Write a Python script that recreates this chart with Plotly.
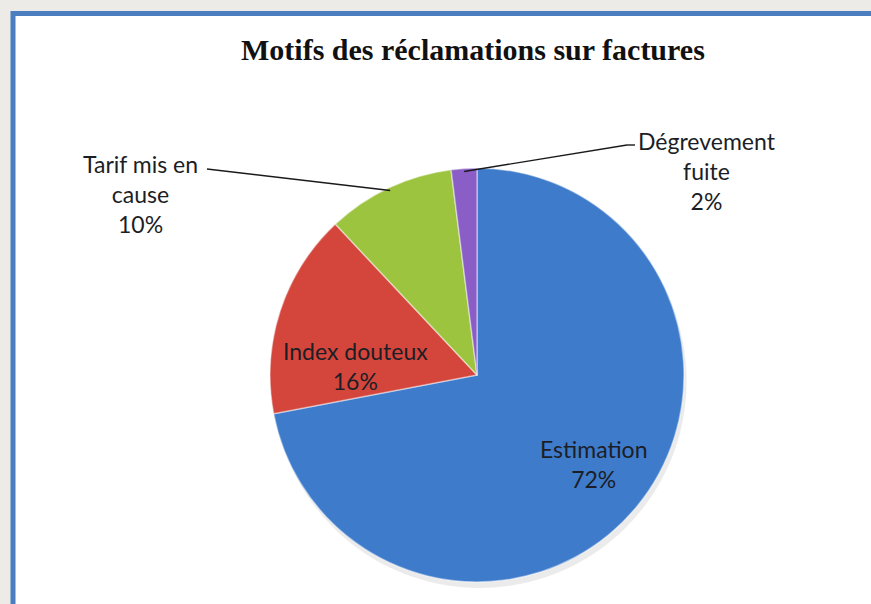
import math
import plotly.graph_objects as go

# ---- data ----
title_text = "Motifs des réclamations sur factures"
categories = ["Estimation", "Index douteux", "Tarif mis en cause", "Dégrevement fuite"]
label_lines = ["Estimation", "Index douteux", "Tarif mis en<br>cause", "Dégrevement<br>fuite"]
values = [72, 16, 10, 2]
colors = ["#3e7bcb", "#d4463c", "#9cc43f", "#8a5ec6"]

W, H = 871, 604
cx, cy, r = 477, 375, 207  # pie center / radius in pixels (layout)

dom_x = [(cx - r) / W, (cx + r) / W]
dom_y = [(H - cy - r) / H, (H - cy + r) / H]

total = sum(values)
pct = [f"{round(100 * v / total)}%" for v in values]

fig = go.Figure()
# soft shadow
fig.add_trace(go.Pie(
    values=[1], marker=dict(colors=["rgba(0,0,0,0.08)"], line=dict(width=0)),
    domain=dict(x=[dom_x[0] + 0.003, dom_x[1] + 0.003], y=[dom_y[0] - 0.01, dom_y[1] - 0.01]),
    textinfo="none", hoverinfo="skip", showlegend=False, sort=False,
))
fig.add_trace(go.Pie(
    labels=categories, values=values, sort=False, direction="clockwise", rotation=0,
    marker=dict(colors=colors, line=dict(color="rgba(255,255,255,0.45)", width=1.5)),
    textinfo="none", domain=dict(x=dom_x, y=dom_y), showlegend=False,
))

# label positions (layout, pixels) and leader lines
label_pos = [(593, 464), (355, 366), (140, 194), (707, 171)]
leader_end = {2: [(207, 169)], 3: [(627, 145), (635, 145)]}
font = dict(family="Lato, Noto Sans, sans-serif", size=23, color="#1c1e26")

cum = 0
for i, v in enumerate(values):
    mid = (cum + v / 2) / total * 2 * math.pi
    cum += v
    if i in leader_end:
        pts = [(cx + 0.985 * r * math.sin(mid), cy - 0.985 * r * math.cos(mid))] + leader_end[i]
        for (x0, y0), (x1, y1) in zip(pts[:-1], pts[1:]):
            fig.add_shape(type="line", xref="paper", yref="paper",
                          x0=x0 / W, y0=1 - y0 / H, x1=x1 / W, y1=1 - y1 / H,
                          line=dict(color="#1a1a1a", width=1.4))
    lx, ly = label_pos[i]
    fig.add_annotation(xref="paper", yref="paper", x=lx / W, y=1 - ly / H,
                       text=f"{label_lines[i]}<br>{pct[i]}", showarrow=False,
                       font=font, align="center", xanchor="center", yanchor="middle")

# frame
fig.add_shape(type="rect", xref="paper", yref="paper",
              x0=13 / W, y0=-0.05, x1=1.05, y1=1 - 13.5 / H,
              line=dict(color="#4a7ebf", width=5), fillcolor="white", layer="below")

fig.add_annotation(xref="paper", yref="paper", x=473 / W, y=1 - 49 / H,
                   text=f"<b>{title_text}</b>", showarrow=False,
                   font=dict(family="Liberation Serif, serif", size=30, color="#111111"),
                   xanchor="center", yanchor="middle")

fig.update_layout(width=W, height=H, margin=dict(l=0, r=0, t=0, b=0),
                  paper_bgcolor="#ecebe7", plot_bgcolor="white")
fig.write_html("out.html", config={"displayModeBar": False},
               post_script="document.body.style.margin='0';document.body.style.background='#ecebe7';document.body.style.overflow='hidden';")
